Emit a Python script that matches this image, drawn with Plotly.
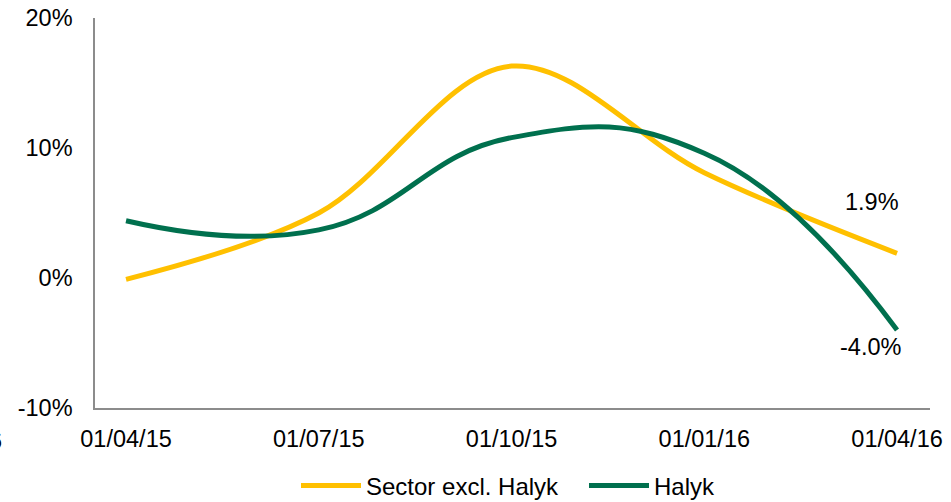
import plotly.graph_objects as go

quarters = ["01/04/15", "01/07/15", "01/10/15", "01/01/16", "01/04/16"]
sector = [-0.1, 5.0, 16.3, 8.1, 1.9]
halyk = [4.4, 3.7, 10.8, 9.6, -4.0]
y_ticks = [-10, 0, 10, 20]
y_labels = ["-10%", "0%", "10%", "20%"]

xs = list(range(len(quarters)))
FONT = "Liberation Sans, Arial, sans-serif"
FS = 23.5

fig = go.Figure()
fig.add_trace(go.Scatter(x=xs, y=sector, mode="lines", name="Sector excl. Halyk",
                         line=dict(color="#FFC000", width=5, shape="spline", smoothing=1.0)))
fig.add_trace(go.Scatter(x=xs, y=halyk, mode="lines", name="Halyk",
                         line=dict(color="#00704E", width=5, shape="spline", smoothing=1.3)))

fig.add_annotation(x=xs[-1], y=sector[-1], text=f"{sector[-1]:.1f}%", showarrow=False,
                   xshift=-25, yshift=51, font=dict(size=FS, color="#000", family=FONT))
fig.add_annotation(x=xs[-1], y=halyk[-1], text=f"{halyk[-1]:.1f}%", showarrow=False,
                   xshift=-27, yshift=-17, font=dict(size=FS, color="#000", family=FONT))
fig.add_annotation(xref="paper", yref="paper", x=-91/835, y=(408-441)/390, text="6",
                   showarrow=False, xanchor="right", yanchor="middle",
                   font=dict(size=FS, color="#000", family=FONT))

fig.update_layout(
    width=951, height=502,
    margin=dict(l=95, r=21, t=18, b=94, autoexpand=False),
    paper_bgcolor="white", plot_bgcolor="white",
    font=dict(family=FONT, size=FS, color="#000"),
    showlegend=True,
    legend=dict(orientation="h", x=(296 - 95) / 835, xanchor="left", y=-0.2, yanchor="middle",
                font=dict(size=24, family=FONT), itemwidth=60, tracegroupgap=0,
                entrywidth=213, entrywidthmode="pixels"),
    xaxis=dict(range=[-0.161, 4.171], tickvals=xs, ticktext=quarters, showgrid=False,
               zeroline=False, showline=True, linecolor="#8c8c8c", linewidth=1.5,
               ticks="", ticklabelstandoff=9, tickfont=dict(size=FS), automargin=False),
    yaxis=dict(range=[-10, 20], tickvals=y_ticks, ticktext=y_labels, showgrid=False,
               zeroline=False, showline=True, linecolor="#8c8c8c", linewidth=1.5,
               ticks="", ticklabelstandoff=16, tickfont=dict(size=FS), automargin=False),
)

fig.write_html("out.html", config={"displayModeBar": False},
               post_script="document.body.style.margin='0';document.body.style.overflow='hidden';")
